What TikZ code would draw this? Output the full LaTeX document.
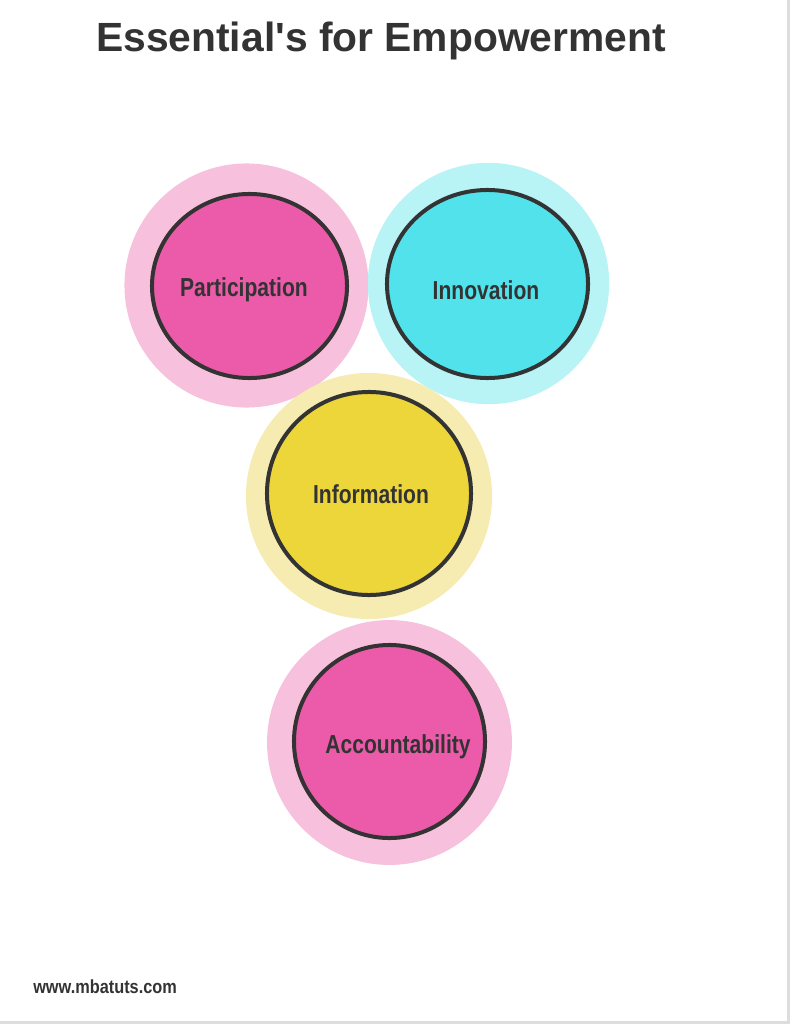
\documentclass[tikz,border=0pt]{standalone}
\usepackage{fontspec}
\setmainfont{Liberation Sans}
\newfontfamily\condfont[FakeStretch=0.81]{Liberation Sans}
\newfontfamily\footfont[FakeStretch=0.86]{Liberation Sans}
\usepackage{tikz}
\usetikzlibrary{shapes.geometric}
\definecolor{TxtDark} {RGB}{51,51,51}
\definecolor{PinkCore}{RGB}{236,91,169}
\definecolor{PinkHalo}{RGB}{247,192,221}
\definecolor{CyanCore}{RGB}{82,226,236}
\definecolor{CyanHalo}{RGB}{184,243,245}
\definecolor{YellCore}{RGB}{236,214,58}
\definecolor{YellHalo}{RGB}{246,235,176}
\definecolor{EdgeGray}{RGB}{221,221,221}
\tikzset{
  nd_halo/.style={
    circle, draw=none, minimum size=6.1cm, inner sep=0pt},
  nd_core/.style={
    ellipse, draw=TxtDark, line width=0.1cm, inner sep=0pt},
  nd_lbl/.style={
    anchor=base, text=TxtDark, inner sep=0pt,
    font=\condfont\bfseries\fontsize{18.5}{20}\selectfont},
  nd_title/.style={
    anchor=base, text=TxtDark, inner sep=0pt,
    font=\bfseries\fontsize{29}{32}\selectfont},
  nd_foot/.style={
    anchor=base west, text=TxtDark, inner sep=0pt,
    font=\footfont\bfseries\fontsize{13.5}{15}\selectfont},
}

\begin{document}
\begin{tikzpicture}[x=0.025cm,y=-0.025cm]

%% page frame (pixels of the 790 x 1024 sheet)
\useasboundingbox (0,0) rectangle (790,1024);
\fill[white] (0,0) rectangle (790,1024);
\fill[EdgeGray] (787,0) rectangle (790,1024);
\fill[EdgeGray] (0,1021) rectangle (790,1024);

%% title
\node[nd_title] at (381,52) (T){Essential\textquotesingle s for Empowerment};

%% halos
\node[nd_halo, fill=PinkHalo, minimum size=6.10cm] at (246.5,285.5) (Ph){};
\node[nd_halo, fill=CyanHalo, minimum size=6.03cm] at (488.5,283.5) (Nh){};
\node[nd_halo, fill=YellHalo, minimum size=6.15cm] at (369,496)     (Ih){};
\node[nd_halo, fill=PinkHalo, minimum size=6.12cm] at (389.5,742.5) (Ah){};

%% cores
\node[nd_core, fill=PinkCore, minimum width=4.875cm, minimum height=4.60cm] at (249.5,286)  (Pc){};
\node[nd_core, fill=CyanCore, minimum width=5.025cm, minimum height=4.70cm] at (487.5,284)  (Nc){};
\node[nd_core, fill=YellCore, minimum width=5.100cm, minimum height=5.075cm] at (369,493.5) (Ic){};
\node[nd_core, fill=PinkCore, minimum width=4.775cm, minimum height=4.825cm] at (389.5,741.5) (Ac){};

%% labels
\node[nd_lbl] at (244,296) (Pt){Participation};
\node[nd_lbl] at (486,299) (Nt){Innovation};
\node[nd_lbl] at (371,503) (It){Information};
\node[nd_lbl] at (398,753) (At){Accountability};

%% footer
\node[nd_foot] at (33,993) (F){www.mbatuts.com};

\end{tikzpicture}
\end{document}
